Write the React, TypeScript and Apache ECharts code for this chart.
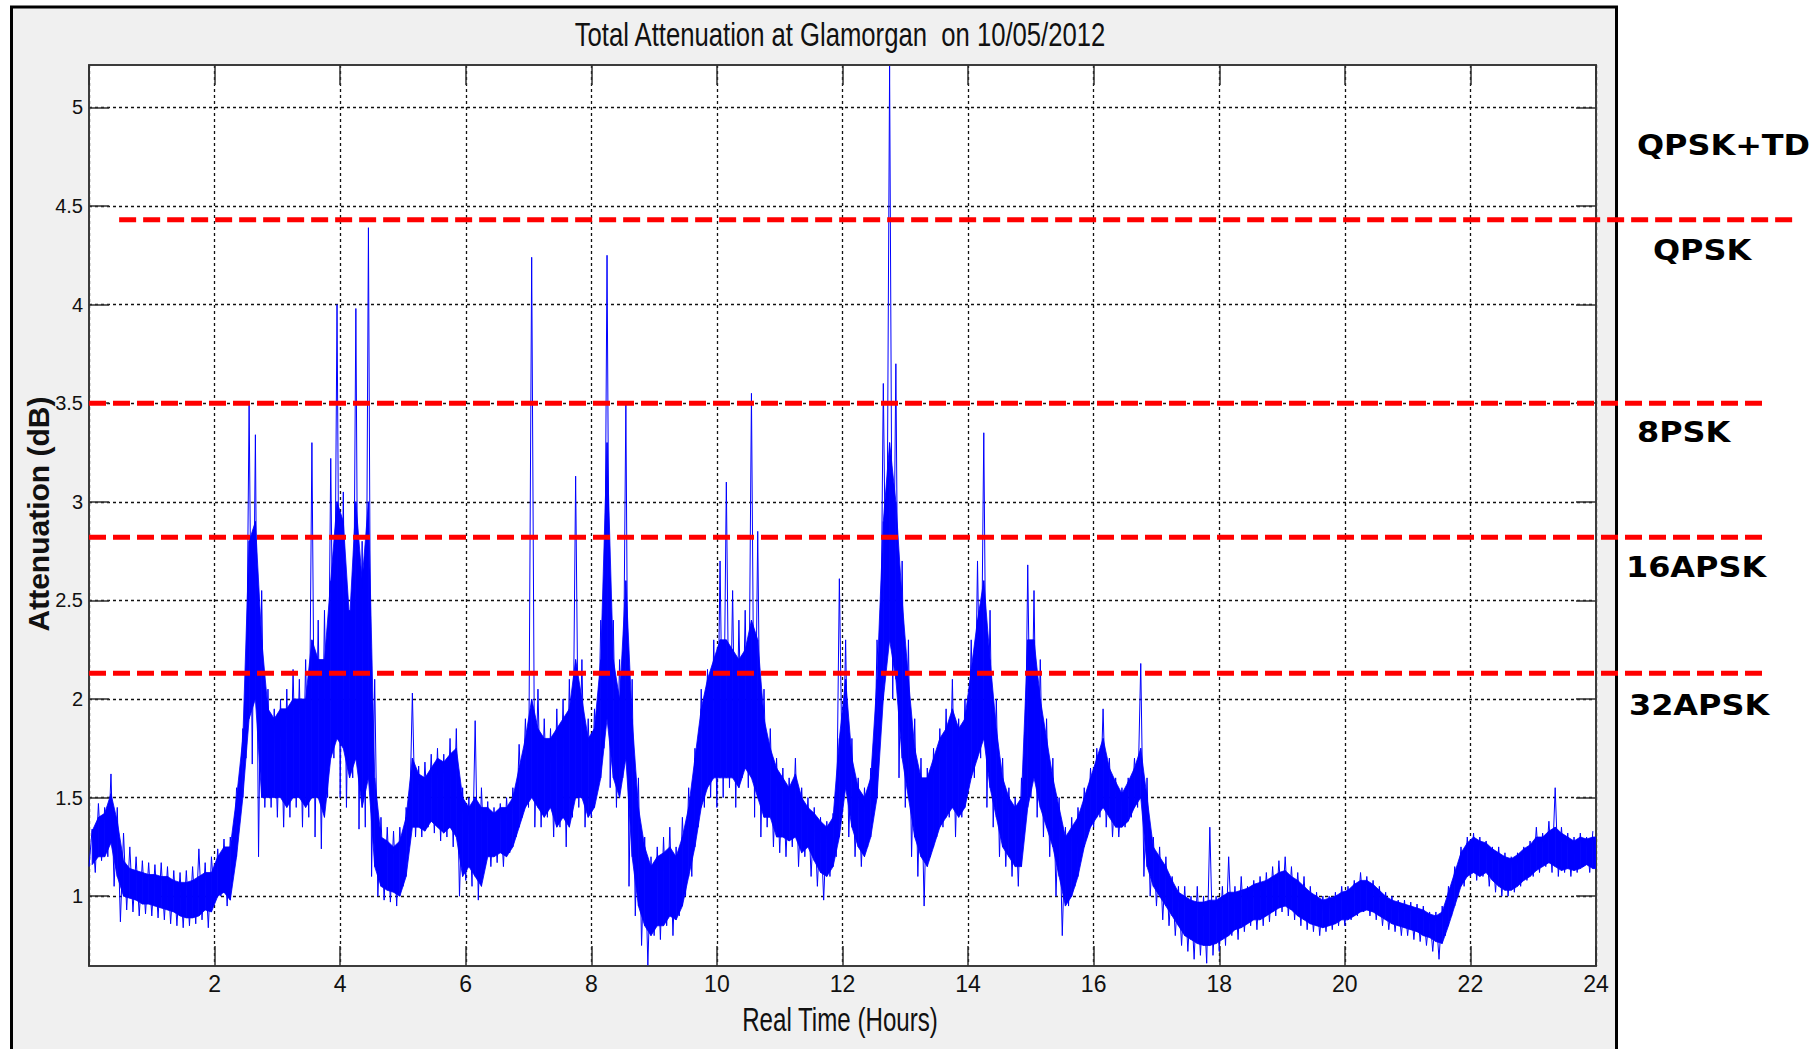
import React, { useEffect, useRef } from 'react';
import * as echarts from 'echarts';

// Attenuation readings in 0.1 h slots (dB).
// LOW/HIGH: extreme excursions in each slot; CORE_LOW/CORE_HIGH: the dense band.
const STEP_HOURS = 0.1;
const LOW = [
  1.15, 1.12, 1.18, 1.2, 1.05, 0.87, 0.93, 0.92, 0.9, 0.91,
  0.9, 0.89, 0.88, 0.86, 0.85, 0.84, 0.85, 0.86, 0.88, 0.84,
  0.98, 1.0, 0.95, 1.15, 1.45, 1.7, 1.67, 1.2, 1.45, 1.45,
  1.4, 1.35, 1.4, 1.45, 1.35, 1.4, 1.3, 1.24, 1.5, 1.7,
  1.5, 1.45, 1.6, 1.34, 1.35, 1.1, 1.0, 0.98, 0.97, 0.95,
  1.05, 1.3, 1.3, 1.3, 1.35, 1.32, 1.28, 1.3, 1.25, 1.0,
  1.08, 1.05, 0.98, 1.15, 1.15, 1.17, 1.15, 1.22, 1.3, 1.4,
  1.45, 1.35, 1.35, 1.4, 1.3, 1.35, 1.25, 1.4, 1.45, 1.35,
  1.4, 1.55, 1.75, 1.55, 1.45, 1.6, 1.05, 0.9, 0.75, 0.65,
  0.8, 0.78, 0.85, 0.8, 0.9, 1.0, 1.1, 1.35, 1.45, 1.5,
  1.45, 1.5, 1.55, 1.45, 1.6, 1.55, 1.4, 1.3, 1.35, 1.25,
  1.22, 1.2, 1.25, 1.15, 1.2, 1.1, 1.05, 0.98, 1.1, 1.2,
  1.5, 1.3, 1.2, 1.15, 1.25, 1.45, 1.9, 2.2, 2.0, 1.6,
  1.45, 1.2, 1.1, 0.95, 1.2, 1.3, 1.35, 1.4, 1.3, 1.4,
  1.55, 1.6, 1.7, 1.45, 1.35, 1.2, 1.15, 1.1, 1.05, 1.35,
  1.5, 1.4, 1.3, 1.2, 1.0, 0.8, 0.95, 1.05, 1.2, 1.3,
  1.35, 1.4, 1.35, 1.3, 1.3, 1.35, 1.4, 1.45, 1.1, 1.0,
  0.95, 0.88, 0.85, 0.8, 0.75, 0.72, 0.68, 0.7, 0.66, 0.7,
  0.72, 0.75, 0.8, 0.78, 0.82, 0.85, 0.83, 0.85, 0.87, 0.9,
  0.92, 0.9, 0.88, 0.85, 0.83, 0.82, 0.8, 0.82, 0.83, 0.85,
  0.85, 0.88, 0.9, 0.92, 0.9, 0.88, 0.85, 0.83, 0.82, 0.8,
  0.8, 0.78, 0.77, 0.75, 0.72, 0.68, 0.8, 0.9, 1.0, 1.05,
  1.1, 1.08, 1.1, 1.05, 1.02, 1.0, 1.0, 1.02, 1.05, 1.08,
  1.1, 1.12, 1.15, 1.12, 1.1, 1.12, 1.1, 1.12, 1.15, 1.12,
];
const HIGH = [
  1.34, 1.47, 1.45, 1.62, 1.45, 1.32, 1.25, 1.2, 1.18, 1.17,
  1.16, 1.17, 1.15, 1.13, 1.12, 1.13, 1.15, 1.24, 1.17, 1.2,
  1.24, 1.29, 1.3, 1.55, 1.85, 3.5, 3.34, 2.55, 2.05, 1.95,
  2.0, 2.05, 2.15, 2.1, 2.2, 3.3, 2.4, 2.45, 3.22, 4.0,
  3.05, 2.45, 3.98, 2.8, 4.39, 2.1, 1.4, 1.35, 1.33, 1.35,
  1.45, 2.03, 1.66, 1.68, 1.72, 1.75, 1.72, 1.8, 1.85, 1.55,
  1.5, 1.89, 1.55, 1.48, 1.45, 1.47, 1.5, 1.55, 1.77, 1.9,
  4.24, 2.05, 1.9, 1.85, 1.95, 2.0, 2.1, 3.13, 2.2, 1.9,
  1.95, 2.4, 4.25, 2.4, 2.2, 3.5, 2.1, 1.6, 1.3, 1.2,
  1.25, 1.3, 1.35, 1.25, 1.4, 1.55, 1.75, 2.05, 2.15, 2.3,
  2.7, 3.1, 2.55, 2.4, 2.45, 3.55, 2.85, 2.05, 1.85, 1.7,
  1.65, 1.6, 1.7, 1.55, 1.5, 1.45, 1.4, 1.38, 1.42, 2.61,
  2.3, 1.8, 1.6, 1.55, 1.65, 2.3, 3.6, 5.21, 3.7, 2.7,
  2.3, 1.9, 1.7, 1.65, 1.75, 1.85, 1.95, 2.1, 1.9, 2.0,
  2.3, 2.7, 3.35, 2.45, 2.0, 1.7, 1.55, 1.5, 1.6, 2.68,
  2.55, 2.2, 1.9, 1.7, 1.5, 1.35, 1.4, 1.45, 1.55, 1.65,
  1.75, 1.95, 1.7, 1.6, 1.55, 1.6, 1.7, 2.18, 1.6, 1.3,
  1.25, 1.2, 1.1, 1.05, 1.05, 1.0, 1.05, 1.0, 1.35, 1.0,
  1.05, 1.2, 1.05, 1.1, 1.05, 1.08, 1.1, 1.12, 1.15, 1.18,
  1.2, 1.15, 1.12, 1.1, 1.05, 1.02, 1.0, 1.0, 1.02, 1.05,
  1.05, 1.08, 1.12, 1.1, 1.08, 1.05, 1.02, 1.0, 0.98, 0.98,
  0.97, 0.96, 0.95, 0.92, 0.92, 0.95, 1.05, 1.15, 1.25, 1.3,
  1.32, 1.3, 1.28, 1.25, 1.25, 1.22, 1.2, 1.22, 1.25, 1.28,
  1.35, 1.32, 1.38, 1.55, 1.35, 1.32, 1.3, 1.32, 1.3, 1.33,
];
const CORE_LOW = [
  1.16, 1.2, 1.2, 1.27, 1.1, 1.0, 0.99, 0.98, 0.96, 0.96,
  0.95, 0.94, 0.93, 0.92, 0.9, 0.89, 0.89, 0.9, 0.93, 0.92,
  1.0, 1.02, 0.98, 1.2, 1.5, 1.9, 2.0, 1.5, 1.5, 1.5,
  1.5, 1.45, 1.5, 1.5, 1.45, 1.5, 1.5, 1.4, 1.7, 1.8,
  1.75, 1.6, 1.7, 1.45, 1.6, 1.15, 1.05, 1.03, 1.02, 1.0,
  1.1, 1.35, 1.35, 1.33, 1.38, 1.35, 1.32, 1.35, 1.3, 1.1,
  1.15, 1.1, 1.05, 1.2, 1.2, 1.22, 1.2, 1.25, 1.35, 1.45,
  1.5, 1.45, 1.4, 1.45, 1.35, 1.4, 1.35, 1.5, 1.5, 1.4,
  1.45, 1.6, 1.9, 1.6, 1.5, 1.7, 1.2, 0.95, 0.85, 0.8,
  0.85, 0.85, 0.9, 0.88, 0.95, 1.1, 1.25, 1.45, 1.55, 1.6,
  1.6, 1.6, 1.6, 1.55, 1.65, 1.6, 1.5, 1.4, 1.4, 1.3,
  1.3, 1.28, 1.3, 1.22, 1.25, 1.18, 1.12, 1.1, 1.15, 1.3,
  1.55, 1.35, 1.25, 1.2, 1.3, 1.5, 2.0, 2.3, 2.1, 1.7,
  1.5, 1.3, 1.2, 1.15, 1.25, 1.35, 1.4, 1.45, 1.4, 1.45,
  1.6, 1.7, 1.8, 1.55, 1.4, 1.25, 1.2, 1.15, 1.15, 1.45,
  1.6, 1.45, 1.35, 1.25, 1.1, 0.95, 1.0, 1.1, 1.25, 1.35,
  1.4, 1.45, 1.4, 1.35, 1.35, 1.38, 1.45, 1.5, 1.15, 1.05,
  1.0, 0.95, 0.9, 0.85, 0.8, 0.78, 0.76, 0.75, 0.75, 0.76,
  0.78, 0.8, 0.83, 0.84, 0.86, 0.88, 0.88, 0.9, 0.92, 0.94,
  0.95, 0.93, 0.9, 0.88, 0.86, 0.85, 0.84, 0.85, 0.86, 0.88,
  0.88, 0.9, 0.92, 0.93, 0.92, 0.9, 0.88, 0.86, 0.85, 0.84,
  0.83, 0.82, 0.8, 0.79, 0.77, 0.76, 0.85, 0.95, 1.05, 1.1,
  1.12, 1.1, 1.12, 1.08, 1.05, 1.03, 1.03, 1.05, 1.08, 1.1,
  1.13, 1.15, 1.17, 1.15, 1.13, 1.14, 1.13, 1.14, 1.16, 1.14,
];
const CORE_HIGH = [
  1.33, 1.4, 1.42, 1.52, 1.38, 1.18, 1.14, 1.13, 1.12, 1.11,
  1.11, 1.1, 1.1, 1.08, 1.07, 1.07, 1.08, 1.1, 1.12, 1.12,
  1.2, 1.25, 1.25, 1.5, 1.8, 2.8, 2.9, 2.3, 1.95, 1.9,
  1.95, 1.95, 2.0, 2.0, 2.0, 2.3, 2.2, 2.2, 2.6, 3.0,
  2.9, 2.4, 3.0, 2.6, 3.0, 1.6, 1.3, 1.28, 1.25, 1.28,
  1.4, 1.7, 1.62, 1.6, 1.65, 1.7, 1.68, 1.72, 1.75, 1.5,
  1.45, 1.5, 1.45, 1.45, 1.42, 1.45, 1.45, 1.5, 1.65, 1.8,
  2.0, 1.85, 1.8, 1.8, 1.85, 1.9, 1.95, 2.2, 2.0, 1.8,
  1.85, 2.2, 3.3, 2.2, 2.0, 2.6, 1.9, 1.45, 1.25, 1.15,
  1.2, 1.22, 1.25, 1.2, 1.3, 1.45, 1.7, 1.95, 2.1, 2.2,
  2.3, 2.3, 2.25, 2.2, 2.25, 2.4, 2.3, 1.9, 1.75, 1.65,
  1.6, 1.55, 1.62, 1.5, 1.45, 1.42, 1.38, 1.35, 1.4, 1.8,
  2.1, 1.7, 1.55, 1.5, 1.6, 2.1, 2.9, 3.3, 3.0, 2.5,
  2.1, 1.75, 1.6, 1.6, 1.7, 1.8, 1.85, 1.95, 1.85, 1.9,
  2.15, 2.4, 2.6, 2.2, 1.85, 1.6, 1.5, 1.45, 1.5, 2.3,
  2.3, 2.0, 1.8, 1.6, 1.45, 1.3, 1.35, 1.4, 1.5, 1.6,
  1.7, 1.8, 1.65, 1.58, 1.52, 1.58, 1.65, 1.75, 1.5, 1.25,
  1.2, 1.15, 1.08, 1.02, 1.0, 0.98, 0.97, 0.97, 0.98, 0.98,
  1.0, 1.02, 1.02, 1.03, 1.04, 1.06, 1.07, 1.08, 1.1, 1.12,
  1.13, 1.1, 1.08, 1.05, 1.02, 1.0, 0.98, 0.99, 1.0, 1.02,
  1.03, 1.06, 1.08, 1.08, 1.06, 1.03, 1.0, 0.98, 0.97, 0.96,
  0.95, 0.94, 0.93, 0.91, 0.9, 0.92, 1.02, 1.12, 1.22, 1.27,
  1.3, 1.28, 1.27, 1.24, 1.22, 1.2, 1.19, 1.21, 1.24, 1.26,
  1.3, 1.3, 1.33, 1.35, 1.32, 1.3, 1.28, 1.3, 1.29, 1.3,
];

// Axis ticks
const Y_TICKS = [1, 1.5, 2, 2.5, 3, 3.5, 4, 4.5, 5];
const Y_RANGE = [0.646, 5.215];
const X_RANGE = [0, 24];
const X_INTERVAL = 2;

// Modulation switching thresholds (dB) and their labels
const THRESHOLDS = [4.43, 3.5, 2.82, 2.13];
const THRESHOLD_START_H = [0.48, 0, 0, 0];
const THRESHOLD_END_H = [27.14, 26.66, 26.66, 26.66];
const MODULATIONS = ['QPSK+TD', 'QPSK', '8PSK', '16APSK', '32APSK'];

const TITLE = 'Total Attenuation at Glamorgan  on 10/05/2012';
const X_NAME = 'Real Time (Hours)';
const Y_NAME = 'Attenuation (dB)';

// label placement (px)
const MOD_LABEL_POS = [
  [1637, 145],
  [1653, 250],
  [1637, 432],
  [1626, 567],
  [1629, 705],
];

const BLUE = '#0000ff';
const NARROW = "'Liberation Sans Narrow', 'Arial Narrow', 'Liberation Sans', Arial, sans-serif";

// excursions: low then high inside every slot
function buildExcursions(): [number, number][] {
  const pts: [number, number][] = [];
  for (let i = 0; i < LOW.length; i++) {
    const t = i * STEP_HOURS;
    pts.push([t, LOW[i]], [t + STEP_HOURS / 2, HIGH[i]]);
  }
  return pts;
}

function buildOption() {
  const tickStyle = { show: true, inside: true, length: 20, lineStyle: { color: '#303030', width: 1.5 } };
  const axisLine = { show: true, onZero: false, lineStyle: { color: '#3c3c3c', width: 2 } };
  const gridLine = { show: true, lineStyle: { color: '#111', width: 1.3, type: [3, 3] as number[] } };

  return {
    animation: false,
    backgroundColor: '#ffffff',
    grid: {
      left: 89,
      top: 65,
      width: 1507,
      height: 901,
      show: true,
      backgroundColor: '#ffffff',
      borderWidth: 0,
      outerBoundsMode: 'none',
    },
    xAxis: [
      {
        type: 'value',
        position: 'bottom',
        min: X_RANGE[0],
        max: X_RANGE[1],
        interval: X_INTERVAL,
        axisLine,
        axisTick: tickStyle,
        splitLine: gridLine,
        axisLabel: {
          color: '#111',
          fontSize: 23,
          fontFamily: NARROW,
          margin: 6,
          formatter: (v: number) => (v === 0 ? '' : String(v)),
        },
      },
      {
        type: 'value',
        position: 'top',
        min: X_RANGE[0],
        max: X_RANGE[1],
        interval: X_INTERVAL,
        axisLine,
        axisTick: tickStyle,
        splitLine: { show: false },
        axisLabel: { show: false },
      },
    ],
    yAxis: [
      {
        type: 'value',
        position: 'left',
        min: Y_RANGE[0],
        max: Y_RANGE[1],
        axisLine,
        axisTick: { ...tickStyle, customValues: Y_TICKS },
        splitLine: gridLine,
        axisLabel: {
          customValues: Y_TICKS,
          color: '#111',
          fontSize: 20,
          fontFamily: NARROW,
          margin: 6,
        },
      },
      {
        type: 'value',
        position: 'right',
        min: Y_RANGE[0],
        max: Y_RANGE[1],
        axisLine,
        axisTick: { ...tickStyle, customValues: Y_TICKS },
        splitLine: { show: false },
        axisLabel: { show: false },
      },
    ],
    series: [
      {
        // dense band, one quad per slot
        type: 'custom',
        name: 'Band',
        clip: true,
        z: 1,
        data: CORE_LOW.map((lo, i) => [i * STEP_HOURS + STEP_HOURS / 2, lo, CORE_HIGH[i]]),
        renderItem: (params: any, api: any) => {
          const i = params.dataIndex;
          const t0 = api.value(0);
          const j = Math.min(i + 1, CORE_LOW.length - 1);
          const t1 = i + 1 < CORE_LOW.length ? t0 + STEP_HOURS : t0 + STEP_HOURS / 2;
          const a = api.coord([t0, api.value(1)]);
          const b = api.coord([t0, api.value(2)]);
          const c = api.coord([t1, CORE_HIGH[j]]);
          const d = api.coord([t1, CORE_LOW[j]]);
          return {
            type: 'polygon',
            shape: { points: [a, b, c, d] },
            style: { fill: BLUE, stroke: BLUE, lineWidth: 0.8 },
          };
        },
      },
      {
        type: 'line',
        name: 'Attenuation',
        data: buildExcursions(),
        showSymbol: false,
        symbol: 'none',
        clip: true,
        lineStyle: { color: BLUE, width: 1 },
        z: 2,
      },
      {
        type: 'custom',
        name: 'Thresholds',
        data: THRESHOLDS.map((v, i) => [THRESHOLD_START_H[i], v, THRESHOLD_END_H[i]]),
        clip: false,
        z: 5,
        renderItem: (_params: any, api: any) => {
          const v = api.value(1);
          const p0 = api.coord([api.value(0), v]);
          const p1 = api.coord([api.value(2), v]);
          return {
            type: 'line',
            shape: { x1: p0[0], y1: p0[1], x2: p1[0], y2: p1[1] },
            style: { stroke: '#ff0000', lineWidth: 5, lineDash: [17, 7] },
          };
        },
      },
    ],
    graphic: [
      {
        type: 'rect',
        z: -100,
        silent: true,
        shape: { x: 11.5, y: 7, width: 1605, height: 1100 },
        style: { fill: '#f0f0f0', stroke: '#000', lineWidth: 3 },
      },
      {
        type: 'text',
        x: 840,
        y: 34,
        scaleX: 0.755,
        silent: true,
        style: {
          text: TITLE,
          font: `34px 'Liberation Sans', Arial, sans-serif`,
          fill: '#111',
          textAlign: 'center',
          textVerticalAlign: 'middle',
        },
      },
      {
        type: 'text',
        x: 840,
        y: 1019,
        scaleX: 0.71,
        silent: true,
        style: {
          text: X_NAME,
          font: `34px 'Liberation Sans', Arial, sans-serif`,
          fill: '#111',
          textAlign: 'center',
          textVerticalAlign: 'middle',
        },
      },
      {
        type: 'text',
        x: 38,
        y: 514,
        rotation: Math.PI / 2,
        silent: true,
        style: {
          text: Y_NAME,
          font: `bold 30px 'Liberation Sans', Arial, sans-serif`,
          fill: '#111',
          textAlign: 'center',
          textVerticalAlign: 'middle',
        },
      },
      ...MODULATIONS.map((name, i) => ({
        type: 'text',
        x: MOD_LABEL_POS[i][0],
        y: MOD_LABEL_POS[i][1],
        scaleX: 1.1,
        silent: true,
        style: {
          text: name,
          font: `bold 29px 'DejaVu Sans', sans-serif`,
          fill: '#000',
          textAlign: 'left',
          textVerticalAlign: 'middle',
        },
      })),
    ],
  };
}

export default function App() {
  const ref = useRef<HTMLDivElement>(null);
  useEffect(() => {
    if (!ref.current) return;
    const chart = echarts.init(ref.current, null, { renderer: 'svg' });
    chart.setOption(buildOption() as any);
    return () => chart.dispose();
  }, []);
  return (
    <div
      ref={ref}
      style={{ position: 'fixed', left: 0, top: 0, width: 1818, height: 1049, background: '#fff' }}
    />
  );
}
